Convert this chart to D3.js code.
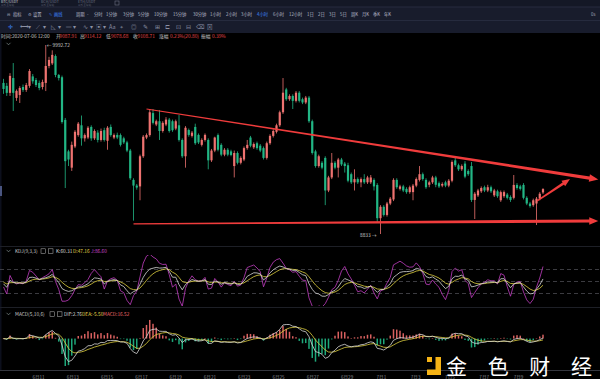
<!DOCTYPE html>
<html><head><meta charset="utf-8">
<script src="https://cdn.jsdelivr.net/npm/d3@7"></script>
<style>body{margin:0;background:#000;overflow:hidden}svg{display:block}text{font-family:"Noto Sans CJK SC","Noto Sans",sans-serif}</style>
</head><body><svg id="c" width="600" height="379"></svg>
<script>
// ---- data: 4h candles [open, high, low, close]
const candles = [
[9760,9785,9693,9723],[9742,9760,9680,9699],[9699,9820,9680,9803],[9790,9882,9588,9699],[9668,9720,9650,9711],
[9686,9740,9637,9729],[9735,9750,9705,9717],[9717,9760,9705,9747],[9742,9845,9730,9833],[9800,9815,9755,9770],
[9778,9790,9735,9747],[9760,9775,9715,9729],[9735,9780,9720,9766],[9760,9992.72,9710,9864],[9864,9920,9850,9901],
[9880,9960,9870,9932],[9925,9935,9795,9809],[9809,9815,9775,9790],[9795,9805,9510,9520],[9533,9545,9115,9280],
[9340,9350,9250,9290],[9240,9400,9220,9380],[9370,9470,9360,9460],[9440,9520,9430,9510],[9500,9560,9375,9420],
[9420,9450,9400,9440],[9425,9495,9415,9485],[9490,9500,9405,9420],[9420,9475,9410,9465],[9455,9470,9395,9410],
[9410,9480,9400,9465],[9470,9485,9400,9410],[9405,9495,9350,9485],[9490,9505,9430,9440],[9425,9450,9415,9440],
[9441,9455,9415,9425],[9440,9450,9370,9380],[9420,9430,9385,9395],[9395,9405,9335,9345],[9345,9355,9165,9175],
[9165,9175,8915,9130],[9130,9140,9105,9118],[9125,9320,9040,9310],[9310,9440,9300,9430],[9425,9450,9415,9440],
[9440,9600,9430,9580],[9575,9600,9505,9515],[9505,9535,9495,9525],[9525,9594,9410,9465],[9465,9525,9455,9515],
[9505,9550,9495,9535],[9535,9545,9455,9465],[9525,9535,9460,9470],[9480,9535,9470,9525],[9500,9563,9400,9410],
[9410,9420,9300,9310],[9310,9495,9240,9485],[9471,9480,9430,9441],[9435,9465,9425,9455],[9490,9510,9380,9390],
[9441,9450,9385,9395],[9380,9420,9370,9410],[9410,9450,9400,9441],[9410,9420,9230,9285],[9285,9355,9275,9345],
[9345,9430,9335,9425],[9440,9450,9340,9350],[9380,9390,9310,9320],[9320,9360,9310,9350],[9350,9360,9310,9320],
[9340,9350,9310,9318],[9250,9345,9180,9330],[9330,9340,9260,9270],[9270,9310,9260,9300],[9290,9370,9280,9360],
[9360,9410,9350,9380],[9425,9435,9365,9375],[9365,9395,9355,9385],[9390,9400,9350,9360],[9375,9385,9335,9345],
[9360,9370,9290,9300],[9300,9400,9290,9390],[9390,9445,9380,9435],[9435,9475,9425,9465],[9460,9510,9450,9500],
[9500,9590,9490,9580],[9580,9790,9570,9700],[9720,9730,9650,9660],[9660,9690,9650,9680],[9680,9690,9600,9650],
[9650,9710,9640,9700],[9700,9710,9640,9650],[9660,9670,9630,9640],[9640,9680,9630,9670],[9670,9680,9515,9525],
[9525,9535,9320,9330],[9340,9350,9240,9250],[9250,9320,9240,9310],[9270,9280,9230,9240],[9300,9310,9010,9100],
[9100,9190,9090,9180],[9180,9330,9170,9270],[9270,9280,9230,9240],[9240,9300,9180,9290],[9290,9300,9250,9260],
[9265,9275,9210,9250],[9255,9270,9150,9160],[9200,9210,9140,9150],[9150,9230,9100,9170],[9170,9180,9140,9150],
[9150,9180,9120,9170],[9170,9200,9140,9150],[9150,9190,9140,9180],[9150,9195,9140,9180],[9165,9175,9100,9125],
[9134,9145,8905,8930],[8930,9010,8833,9000],[9000,9010,8940,8950],[8950,9030,8940,9020],[9020,9060,9010,9050],
[9045,9175,9035,9165],[9165,9175,9110,9120],[9110,9135,9100,9125],[9125,9135,9090,9100],[9110,9120,9080,9090],
[9090,9130,9080,9120],[9090,9140,9040,9130],[9130,9180,9120,9170],[9165,9250,9155,9200],[9200,9210,9160,9170],
[9165,9175,9110,9120],[9135,9160,9120,9150],[9150,9190,9140,9180],[9180,9190,9120,9135],[9145,9155,9115,9125],
[9130,9150,9120,9140],[9150,9160,9120,9130],[9130,9170,9120,9160],[9160,9285,9150,9275],[9285,9300,9245,9255],
[9255,9265,9220,9230],[9230,9260,9220,9250],[9265,9280,9175,9185],[9220,9230,9190,9200],[9250,9275,9030,9042],
[9042,9090,8925,9080],[9070,9110,9060,9100],[9095,9125,9085,9115],[9120,9130,9090,9100],[9100,9135,9090,9120],
[9120,9130,9085,9095],[9070,9110,9060,9100],[9095,9105,9055,9065],[9040,9100,9030,9090],[9065,9100,9055,9090],
[9075,9085,9045,9055],[9060,9070,9030,9042],[9055,9195,9045,9134],[9134,9145,9105,9115],[9125,9135,9100,9110],
[9134,9145,9045,9055],[9055,9065,9010,9020],[9020,9030,8995,9005],[9010,9050,9000,9040],[9020,9060,8888,9050],
[9050,9090,9040,9080],[9087.91,9114.12,9078.68,9108.71]
];
const xLabels = ["6月11","6月13","6月15","6月17","6月19","6月21","6月23","6月25","6月27","6月29","7月1","7月3","7月5","7月7","7月9"];
// trend annotations in data units [candle index, price]
const topLine   = [[44, 9600], [183, 9168]];
const lowLine   = [[40, 8895], [183, 8913]];
const shortArrow= [[164.2, 9036], [174.3, 9170]];
const kdjParams = [9,3,3];
const macdParams = [5,10,6];
const kdjLevels = [80,50,20];
const headerParts = [["时间:2020-07-06 12:00","#c8c8c8"],["开","#c8c8c8"],["9087.91","#e9484b"],["高","#c8c8c8"],["9114.12","#e9484b"],["低","#c8c8c8"],["9078.68","#e9484b"],["收","#c8c8c8"],["9108.71","#e9484b"],["涨幅","#c8c8c8"],["0.23%(20.80)","#e9484b"],["振幅","#c8c8c8"],["0.39%","#e9484b"]];
const headerX = [1,56,59.5,80,84,106,111,133,137.5,159,170,201,212];
const periods = ["分时","1分钟","3分钟","5分钟","10分钟","15分钟","30分钟","1小时","2小时","3小时","4小时","6小时","12小时","1日","2日","3日","5日","周K","月K","季K","年K"];
const periodX = [94,106,123,138,154,173,193,210,226,241,257,273,289,307,318,329,340,351,362,373,384];
const activePeriod = "4小时";
const kdjLegend = [["K:60.31","#dcdcdc"],["D:47.16","#e6d84a"],["J:86.60","#d04ad0"]];
const macdLegend = [["DIF:2.76","#dcdcdc"],["DEA:-5.50","#e6d84a"],["MACD:16.52","#e8686a"]];

const UP = "#ee7270", DOWN = "#22b685", TREND = "#f03c3c";
const svg = d3.select("#c");
svg.append("rect").attr("width",600).attr("height",379).attr("fill","#000");

// ---- toolbar
svg.append("rect").attr("width",600).attr("height",33).attr("fill","#181c2c");
svg.append("rect").attr("width",600).attr("height",7).attr("fill","#141826");
[7,20.5].forEach(yy=>svg.append("line").attr("x1",0).attr("x2",600).attr("y1",yy).attr("y2",yy).attr("stroke","#262b3e").attr("stroke-width",1));
const tabs = [["BTC/USDT",1,"#c9ccd6"],["BCH/USDT",41,"#6d7284"],["ETH/USDT",78,"#6d7284"]];
tabs.forEach(t=>{
  svg.append("text").attr("x",t[1]).attr("y",3.4).attr("font-size",3.6).attr("fill",t[2]).text(t[0]);
  svg.append("text").attr("x",t[1]).attr("y",6.2).attr("font-size",2.6).attr("fill","#555a6c").text("火币全球站");
});
svg.append("rect").attr("x",115).attr("y",1).attr("width",4).attr("height",4).attr("fill","none").attr("stroke","#6d7284").attr("stroke-width",0.6);
const row2 = [["⊟",7,"#9ea3b4"],["指标",13,"#b8bccb"],["⚙",28,"#9ea3b4"],["设置",33,"#b8bccb"],["✎",49,"#3d86ff"],["画线",54,"#3d86ff"],["周期",76,"#b8bccb"],["-",87,"#b8bccb"]];
row2.forEach(t=>svg.append("text").attr("x",t[1]).attr("y",16.2).attr("font-size",4.3).attr("fill",t[2]).text(t[0]));
periods.forEach((p,i)=>svg.append("text").attr("x",periodX[i]).attr("y",16.2).attr("font-size",4.3)
  .attr("fill",p===activePeriod?"#3d86ff":"#b8bccb").text(p));
svg.append("text").attr("x",591).attr("y",16.2).attr("font-size",4.3).attr("fill","#9ea3b4").text("0s");
const icons = [["✛",8,"#3d86ff"],["⟷",20,"#8b90a3"],["▾",28,"#8b90a3"],["⟋",36,"#8b90a3"],["▾",43,"#8b90a3"],["◺",51,"#8b90a3"],["▾",58,"#8b90a3"],["═",66,"#8b90a3"],["▾",73,"#8b90a3"],["∿",83,"#8b90a3"],["▾",90,"#8b90a3"],["▣",96,"#8b90a3"],["▾",103,"#8b90a3"],["Aa",109,"#8b90a3"],["⌖",120,"#8b90a3"],["◎",131,"#8b90a3"],["✎",143,"#8b90a3"],["⊞",155,"#8b90a3"],["⊏",165,"#8b90a3"],["⊡",176,"#8b90a3"],["⊟",186,"#8b90a3"],["⌫",196,"#8b90a3"],["⊠",207,"#8b90a3"]];
icons.forEach(t=>svg.append("text").attr("x",t[1]).attr("y",28.5).attr("font-size",5.5).attr("font-family","DejaVu Sans").attr("fill",t[2]).text(t[0]));

// left strip
svg.append("rect").attr("x",0).attr("y",33).attr("width",1.5).attr("height",337).attr("fill","#0c0f1c");
svg.append("rect").attr("x",0).attr("y",186).attr("width",2).attr("height",10).attr("fill","#4a5580");

// header line
headerParts.forEach((p,i)=>svg.append("text").attr("x",headerX[i]).attr("y",38.2).attr("font-size",4.8).attr("fill",p[1]).text(p[0]));

// ---- scales
const N = candles.length;
const x = d3.scaleLinear().domain([0, N-1]).range([3.5, 543]);
const y = d3.scaleLinear().domain([8833, 9992.72]).range([234, 45]);

const main = svg.append("g");
main.selectAll(".wick").data(candles).join("line")
  .attr("x1",(d,i)=>x(i)).attr("x2",(d,i)=>x(i)).attr("y1",d=>y(d[1])).attr("y2",d=>y(d[2]))
  .attr("stroke",d=>d[3]>=d[0]?UP:DOWN).attr("stroke-width",0.8);
main.selectAll(".body").data(candles).join("rect")
  .attr("x",(d,i)=>x(i)-1.1).attr("width",2.2)
  .attr("y",d=>y(Math.max(d[0],d[3]))).attr("height",d=>Math.max(0.8,Math.abs(y(d[0])-y(d[3]))))
  .attr("fill",d=>d[3]>=d[0]?UP:DOWN);

// max / min markers
const iMax = d3.maxIndex(candles,d=>d[1]), iMin = d3.minIndex(candles,d=>d[2]);
svg.append("text").attr("x",x(iMax)+1).attr("y",y(candles[iMax][1])+1.6).attr("font-size",4.8).attr("fill","#d0d0d0")
  .text("← "+d3.format(".2f")(candles[iMax][1]));
svg.append("text").attr("x",x(iMin)-4).attr("y",y(candles[iMin][2])+2.5).attr("text-anchor","end").attr("font-size",4.8).attr("fill","#d0d0d0")
  .text(d3.format("d")(candles[iMin][2])+" →");

// chevrons
[44,251,314].forEach(yy=>svg.append("path").attr("d",`M6.5,${yy-1.2}L8.5,${yy+0.8}L10.5,${yy-1.2}`).attr("fill","none").attr("stroke","#9aa").attr("stroke-width",0.6));

// tapered arrows
function arrow(seg, w0, w1, head){
  const p0=[x(seg[0][0]),y(seg[0][1])], p1=[x(seg[1][0]),y(seg[1][1])];
  const dx=p1[0]-p0[0], dy=p1[1]-p0[1], L=Math.hypot(dx,dy), ux=dx/L, uy=dy/L, nx=-uy, ny=ux;
  const e=[p1[0]-ux*head*0.8, p1[1]-uy*head*0.8];
  const poly=[[p0[0]+nx*w0/2,p0[1]+ny*w0/2],[e[0]+nx*w1/2,e[1]+ny*w1/2],[e[0]-nx*w1/2,e[1]-ny*w1/2],[p0[0]-nx*w0/2,p0[1]-ny*w0/2]];
  svg.append("path").attr("d",d3.line()(poly)+"Z").attr("fill",TREND);
  const b=[p1[0]-ux*head, p1[1]-uy*head];
  const tri=[p1,[b[0]+nx*head*0.42,b[1]+ny*head*0.42],[b[0]-nx*head*0.42,b[1]-ny*head*0.42]];
  svg.append("path").attr("d",d3.line()(tri)+"Z").attr("fill",TREND);
}
arrow(topLine,1,3.2,9);
arrow(lowLine,1.2,3.2,9);
arrow(shortArrow,1.4,2.6,8);

// panel separators
[246.5,307.5].forEach(yy=>svg.append("line").attr("x1",0).attr("x2",600).attr("y1",yy).attr("y2",yy).attr("stroke","#1d1f26").attr("stroke-width",1));

// ---- KDJ (derived from candles)
const K=[],D=[],J=[]; let pk=50,pd=50;
candles.forEach((c,i)=>{
  const win=candles.slice(Math.max(0,i-kdjParams[0]+1),i+1);
  const hh=d3.max(win,d=>d[1]), ll=d3.min(win,d=>d[2]);
  const rsv=hh===ll?50:(c[3]-ll)/(hh-ll)*100;
  pk=((kdjParams[1]-1)*pk+rsv)/kdjParams[1]; pd=((kdjParams[2]-1)*pd+pk)/kdjParams[2];
  K.push(pk);D.push(pd);J.push(3*pk-2*pd);
});
const yk = d3.scaleLinear().domain([20,80]).range([293.5,269.5]);
kdjLevels.forEach(v=>svg.append("line").attr("x1",0).attr("x2",600).attr("y1",yk(v)).attr("y2",yk(v))
  .attr("stroke","#4a4a50").attr("stroke-width",0.8).attr("stroke-dasharray","4,3"));
svg.append("clipPath").attr("id","ck").append("rect").attr("x",0).attr("y",255).attr("width",600).attr("height",51);
const kg = svg.append("g").attr("clip-path","url(#ck)");
[[J,"#c23ec2"],[D,"#e0d040"],[K,"#d8d8d8"]].forEach(s=>kg.append("path")
  .attr("d",d3.line().x((d,i)=>x(i)).y(d=>yk(d))(s[0])).attr("fill","none").attr("stroke",s[1]).attr("stroke-width",0.8));
svg.append("text").attr("x",15).attr("y",252.8).attr("font-size",4.8).attr("fill","#c8c8c8").text("KDJ(9,3,3)");
[41,48.5].forEach(xx=>svg.append("rect").attr("x",xx).attr("y",248.8).attr("width",4.5).attr("height",4.5).attr("fill","none").attr("stroke","#bbb").attr("stroke-width",0.5));
[56,73,91].forEach((xx,i)=>svg.append("text").attr("x",xx).attr("y",252.8).attr("font-size",4.8).attr("fill",kdjLegend[i][1]).text(kdjLegend[i][0]));

// ---- MACD (derived from candles)
function ema(arr,n){const k=2/(n+1);const o=[];arr.forEach((v,i)=>o.push(i?o[i-1]+k*(v-o[i-1]):v));return o;}
const closes=candles.map(d=>d[3]);
const e1=ema(closes,macdParams[0]), e2=ema(closes,macdParams[1]);
const dif=e1.map((v,i)=>v-e2[i]), dea=ema(dif,macdParams[2]), hist=dif.map((v,i)=>2*(v-dea[i]));
const m=d3.max([...dif,...dea,...hist].map(Math.abs));
const ym=d3.scaleLinear().domain([-m,0.75*m]).range([366,318]);
svg.append("clipPath").attr("id","cm").append("rect").attr("x",0).attr("y",318).attr("width",600).attr("height",52);
const mg=svg.append("g").attr("clip-path","url(#cm)");
mg.selectAll("rect").data(hist).join("rect")
  .attr("x",(d,i)=>x(i)-0.75).attr("width",1.5)
  .attr("y",d=>Math.min(ym(d),ym(0))).attr("height",d=>Math.max(0.5,Math.abs(ym(d)-ym(0))))
  .attr("fill",d=>d>=0?"#d8605f":"#1ea77a");
[[dea,"#e0d040"],[dif,"#d8d8d8"]].forEach(s=>mg.append("path")
  .attr("d",d3.line().x((d,i)=>x(i)).y(d=>ym(d))(s[0])).attr("fill","none").attr("stroke",s[1]).attr("stroke-width",0.8));
svg.append("text").attr("x",15).attr("y",315.8).attr("font-size",4.8).attr("fill","#c8c8c8").text("MACD(5,10,6)");
[50,57.5].forEach(xx=>svg.append("rect").attr("x",xx).attr("y",311.8).attr("width",4.5).attr("height",4.5).attr("fill","none").attr("stroke","#bbb").attr("stroke-width",0.5));
[64,82,103].forEach((xx,i)=>svg.append("text").attr("x",xx).attr("y",315.8).attr("font-size",4.8).attr("fill",macdLegend[i][1]).text(macdLegend[i][0]));

// ---- x axis
svg.append("line").attr("x1",0).attr("x2",600).attr("y1",370.5).attr("y2",370.5).attr("stroke","#34363e").attr("stroke-width",1);
const xl = d3.scalePoint().domain(xLabels).range([38,518]);
const ax = svg.append("g").attr("transform","translate(0,370.5)").call(d3.axisBottom(xl).tickSize(0).tickPadding(5));
ax.select(".domain").remove();
ax.selectAll("text").attr("font-size",4.6).attr("fill","#8a8c94").attr("font-family","Noto Sans CJK SC");

// ---- watermark
const logo = svg.append("g");
logo.append("rect").attr("x",427).attr("y",357).attr("width",5).attr("height",5).attr("fill","#f5b316");
logo.append("path").attr("d","M435.5,357H441V375H427V369.5H435.5Z").attr("fill","#f5b316");
logo.append("text").attr("x",446).attr("y",374).attr("font-size",21).attr("font-weight",400).attr("fill","#ffffff")
  .attr("textLength",146).attr("lengthAdjust","spacing").text("金色财经");
</script></body></html>
